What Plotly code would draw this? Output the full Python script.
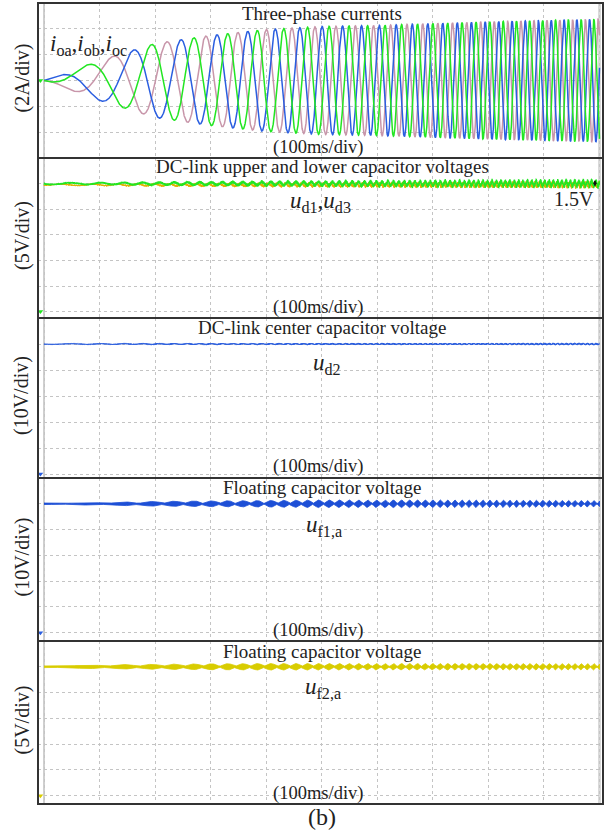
import numpy as np
import plotly.graph_objects as go

W, H = 607, 834

# ---- readings taken at every 100 ms division (0 ... 10 div) ----
time_div = list(range(11))
current_freq_hz = [4, 7, 11.5, 16.5, 20.5, 26, 32, 37, 41, 43, 44]
current_amp_a = [0.0, 1.55, 2.87, 3.49, 3.95, 4.19, 4.26, 4.42, 4.55, 4.65, 4.75]
ud13_ripple_v = [0.3, 0.35, 0.45, 0.55, 0.62, 0.68, 0.74, 0.8, 0.85, 0.9, 0.95]
ud2_ripple_v = [0.25, 0.3, 0.35, 0.35, 0.35, 0.4, 0.4, 0.4, 0.4, 0.45, 0.45]
uf1_ripple_v = [0.2, 0.4, 0.8, 1.0, 1.15, 1.35, 1.35, 1.35, 1.35, 1.25, 1.15]
uf2_ripple_v = [0.1, 0.3, 0.4, 0.5, 0.55, 0.55, 0.55, 0.55, 0.55, 0.55, 0.55]
blob_sharpness = [1.0, 1.0, 1.0, 1.0, 1.1, 1.3, 1.6, 2.0, 2.5, 3.0, 3.5]

# DC levels (V)
ud1_ud3_level = 25
ud2_level = 50
uf1_level = 50
uf2_level = 25

# vertical scales per panel
volts_per_div = [2, 5, 10, 10, 5]
panel_titles = ["Three-phase currents",
                "DC-link upper and lower capacitor voltages",
                "DC-link center capacitor voltage",
                "Floating capacitor voltage",
                "Floating capacitor voltage"]
scale_labels = ["(2A/div)", "(5V/div)", "(10V/div)", "(10V/div)", "(5V/div)"]

# panel frames in pixels (top, bottom) and vertical ranges
panel_px = [(3, 158), (158, 318), (318, 478), (478, 641), (641, 804)]
y_ranges = [(-6, 6), (-1.25, 30), (-1.5, 60), (-3.2, 60), (-1.6, 30)]
FRAME_L, FRAME_R = 38, 603
X_RANGE = (-0.0108, 1.0063)

GREEN = "#22e622"
PINK = "#c896aa"
BLUE = "#2a5ee0"
DBLUE = "#1d4fd6"
YELLOW = "#d8cc00"
ORANGE = "#e2b000"
TXT = "#222222"
FONT = "Liberation Serif, Times New Roman, serif"


def px(x):
    return x / W


def py(y):
    return 1 - y / H


def label(text, x, y, size, **kw):
    d = dict(text=text, x=px(x), y=py(y), xref="paper", yref="paper", showarrow=False,
             xanchor="center", yanchor="middle", font=dict(family=FONT, size=size, color=TXT))
    d.update(kw)
    return d


# ---- waveforms built from the per-division readings ----
t = np.linspace(0, 1.0, 4001)
tdiv_s = np.array(time_div) * 0.1
freq = np.interp(t, tdiv_s, current_freq_hz)
phase = np.concatenate([[0.0], np.cumsum((freq[1:] + freq[:-1]) / 2 * np.diff(t))]) - 0.15
amp = np.interp(t, tdiv_s, current_amp_a)
i_oa = amp * np.sin(2 * np.pi * phase)
i_ob = amp * np.sin(2 * np.pi * (phase - 1 / 3))
i_oc = amp * np.sin(2 * np.pi * (phase - 2 / 3))

t_fine = np.linspace(0, 1.0, 7001)
freq_f = np.interp(t_fine, tdiv_s, current_freq_hz)
phase_f = np.concatenate([[0.0], np.cumsum((freq_f[1:] + freq_f[:-1]) / 2 * np.diff(t_fine))]) - 0.15

r13 = np.interp(t_fine, tdiv_s, ud13_ripple_v)
ud1 = ud1_ud3_level + r13 * (0.5 * np.sin(2 * np.pi * 3 * phase_f) + 0.5 * np.sin(2 * np.pi * 1733.0 * t_fine))
ud3 = ud1_ud3_level - 0.25 + 0.75 * r13 * (0.5 * np.sin(2 * np.pi * 3 * phase_f + 1.9)
                                            + 0.5 * np.sin(2 * np.pi * 2417.0 * t_fine))
r2 = np.interp(t_fine, tdiv_s, ud2_ripple_v)
ud2 = ud2_level + r2 * (0.4 * np.sin(2 * np.pi * 3 * phase_f) + 0.6 * np.sin(2 * np.pi * 2089.0 * t_fine))

sharp = np.interp(t, tdiv_s, blob_sharpness)
lobe = np.abs(np.sin(2 * np.pi * phase)) ** sharp
env1 = np.interp(t, tdiv_s, uf1_ripple_v) * lobe + 0.12
env2 = np.interp(t, tdiv_s, uf2_ripple_v) * lobe + 0.08

fig = go.Figure()
layout = dict(width=W, height=H, margin=dict(l=0, r=0, t=0, b=0),
              paper_bgcolor="white", plot_bgcolor="white", showlegend=False)

shapes = []
annotations = []
title_ys = [13, 167, 327, 487, 651]
div_ys = [147, 308, 467, 630, 793]
for k in range(5):
    n = "" if k == 0 else str(k + 1)
    top, bot = panel_px[k]
    layout["xaxis" + n] = dict(domain=[px(FRAME_L), px(FRAME_R)], range=list(X_RANGE),
                               anchor="y" + n, showticklabels=False, ticks="", zeroline=False,
                               showgrid=True, gridcolor="#c4c4c4", griddash="dot", gridwidth=1,
                               dtick=0.1, tick0=0, showline=False, fixedrange=True)
    layout["yaxis" + n] = dict(domain=[py(bot), py(top)], range=list(y_ranges[k]),
                               anchor="x" + n, showticklabels=False, ticks="", zeroline=False,
                               showgrid=True, gridcolor="#c4c4c4", griddash="dot", gridwidth=1,
                               dtick=volts_per_div[k], tick0=0, showline=False, fixedrange=True)
    xr, yr = "x" + n, "y" + n
    # start marker and right-edge strip
    shapes.append(dict(type="line", xref=xr, yref=yr + " domain", x0=0, x1=0, y0=0, y1=1,
                       line=dict(color="#cfcfcf", width=2), layer="below"))
    shapes.append(dict(type="line", xref=xr, yref=yr + " domain", x0=1.0, x1=1.0, y0=0, y1=1,
                       line=dict(color="#dadada", width=3), layer="below"))
    # panel frame
    shapes.append(dict(type="rect", xref="paper", yref="paper", x0=px(FRAME_L), x1=px(FRAME_R),
                       y0=py(bot), y1=py(top), line=dict(color="#333333", width=2), layer="above"))
    # panel title / time scale / vertical scale
    annotations.append(label(panel_titles[k], 322, title_ys[k], 19))
    annotations.append(label("(100ms/div)", 318, div_ys[k], 18.5))
    annotations.append(label(scale_labels[k], 22, (top + bot) / 2 - 2, 20, textangle=-90))

# panel 1: three-phase currents
for y, c in ((i_ob, PINK), (i_oc, BLUE), (i_oa, GREEN)):
    fig.add_trace(go.Scatter(x=t, y=y, mode="lines", line=dict(color=c, width=1.5),
                             xaxis="x", yaxis="y", hoverinfo="skip"))

# panel 2: upper and lower DC-link capacitor voltages
fig.add_trace(go.Scatter(x=t_fine, y=ud3, mode="lines", line=dict(color=ORANGE, width=1),
                         xaxis="x2", yaxis="y2", hoverinfo="skip"))
fig.add_trace(go.Scatter(x=t_fine, y=ud1, mode="lines", line=dict(color=GREEN, width=1.1),
                         xaxis="x2", yaxis="y2", hoverinfo="skip"))

# panel 3: DC-link center capacitor voltage
fig.add_trace(go.Scatter(x=t_fine, y=ud2, mode="lines", line=dict(color=BLUE, width=1),
                         xaxis="x3", yaxis="y3", hoverinfo="skip"))

# panels 4 and 5: floating capacitor voltages (ripple band)
for level, env, c, n in ((uf1_level, env1, DBLUE, "4"), (uf2_level, env2, YELLOW, "5")):
    fig.add_trace(go.Scatter(x=np.concatenate([t, t[::-1]]),
                             y=np.concatenate([level + env, (level - env)[::-1]]),
                             mode="lines", fill="toself", fillcolor=c,
                             line=dict(color=c, width=0.8),
                             xaxis="x" + n, yaxis="y" + n, hoverinfo="skip"))

# channel ground markers
marker_cols = [GREEN, GREEN, BLUE, BLUE, YELLOW]
for k in range(5):
    n = "" if k == 0 else str(k + 1)
    fig.add_trace(go.Scatter(x=[-0.0065], y=[0], mode="markers", cliponaxis=False,
                             marker=dict(symbol="triangle-down", size=5, color=marker_cols[k]),
                             xaxis="x" + n, yaxis="y" + n, hoverinfo="skip"))

# signal labels
annotations += [
    label("<i>i</i><sub>oa</sub>,<i>i</i><sub>ob</sub>,<i>i</i><sub>oc</sub>", 88, 45, 23),
    label("<i>u</i><sub>d1</sub>,<i>u</i><sub>d3</sub>", 321, 202, 23),
    label("<i>u</i><sub>d2</sub>", 327, 364, 23),
    label("<i>u</i><sub>f1,a</sub>", 324, 526, 23),
    label("<i>u</i><sub>f2,a</sub>", 323, 688, 23),
    label("1.5V", 574, 199, 20),
    label("(b)", 322, 817, 24),
]
annotations.append(dict(text="", x=px(595), y=py(180), xref="paper", yref="paper",
                        ax=0, ay=8, showarrow=True, arrowhead=2, arrowside="end+start",
                        arrowsize=0.6, arrowwidth=1.2, arrowcolor="#111111"))

layout["shapes"] = shapes
layout["annotations"] = annotations
fig.update_layout(**layout)
fig.write_html("out.html")
